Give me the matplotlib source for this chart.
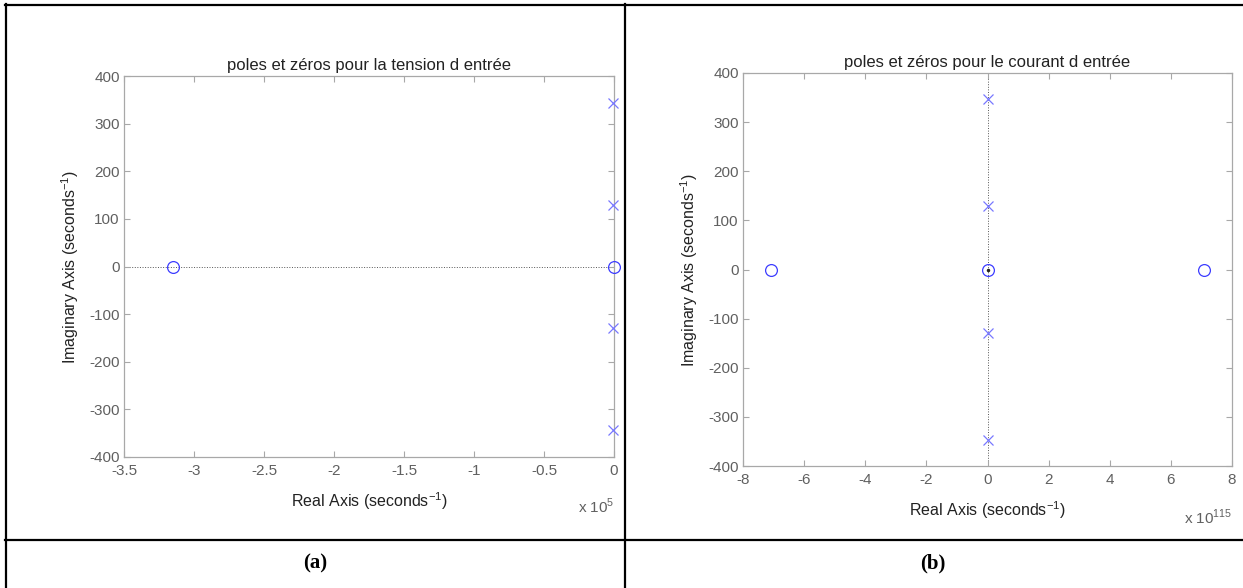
import numpy as np
import matplotlib.pyplot as plt
from matplotlib.lines import Line2D

# Données
# (a) tension d'entrée
zeros_a_re = np.array([-3.15e5, 0.0])
zeros_a_im = np.array([0.0, 0.0])
poles_a_re = np.array([-500.0, -500.0, -500.0, -500.0])
poles_a_im = np.array([343.0, 129.0, -129.0, -343.0])

# (b) courant d'entrée
zeros_b_re = np.array([-7.07e115, 0.0, 7.07e115])
zeros_b_im = np.array([0.0, 0.0, 0.0])
poles_b_re = np.array([0.0, 0.0, 0.0, 0.0])
poles_b_im = np.array([347.0, 129.0, -129.0, -347.0])

xticks_a = [-3.5, -3, -2.5, -2, -1.5, -1, -0.5, 0]
xticks_b = [-8, -6, -4, -2, 0, 2, 4, 6, 8]
yticks = [-400, -300, -200, -100, 0, 100, 200, 300, 400]

plt.rcParams['font.family'] = ['Liberation Sans', 'DejaVu Sans']
plt.rcParams['mathtext.fontset'] = 'custom'
plt.rcParams['mathtext.rm'] = 'Liberation Sans'
plt.rcParams['axes.unicode_minus'] = False

W, H = 1243, 588
fig = plt.figure(figsize=(W / 100, H / 100), dpi=100)

tick_col = '#606060'
spine_col = '#a8a8a8'
zero_col = '#3c3cff'
pole_col = '#7878ff'


def make_axes(box, xticks, xlim, title, scale_txt):
    l, r, t, b = box
    ax = fig.add_axes([l / W, 1 - b / H, (r - l) / W, (b - t) / H])
    ax.set_xlim(xlim)
    ax.set_ylim(-400, 400)
    ax.set_xticks(xticks)
    ax.set_xticklabels([f'{v:g}' for v in xticks])
    ax.set_yticks(yticks)
    for s in ax.spines.values():
        s.set_color(spine_col)
        s.set_linewidth(0.9)
    ax.tick_params(direction='in', length=4, width=0.8, color=spine_col,
                   labelcolor=tick_col, labelsize=11, top=True, right=True,
                   pad=3)
    ax.tick_params(axis='x', pad=5)
    ax.set_title(title, fontsize=12, color='#222222', pad=4)
    ax.set_xlabel('Real Axis (seconds$^{-1}$)', fontsize=11.5,
                  color='#222222', labelpad=9)
    ax.set_ylabel('Imaginary Axis (seconds$^{-1}$)', fontsize=11.5,
                  color='#222222', labelpad=6)
    ax.text(1.0, -0.13, scale_txt, transform=ax.transAxes, ha='right',
            va='center', fontsize=11, color=tick_col)
    return ax


# panneau (a)
ax1 = make_axes((124, 614, 76, 457), xticks_a, (-3.5, 0),
                'poles et zéros pour la tension d entrée', 'x 10$^{5}$')
ax1.axhline(0, color='#555555', ls=':', lw=0.7, zorder=1)
ax1.plot(zeros_a_re / 1e5, zeros_a_im, 'o', ms=8.5, mfc='none', mec=zero_col,
         mew=0.9, clip_on=False, zorder=3)
ax1.plot(poles_a_re / 1e5, poles_a_im, 'x', ms=7.5, mec=pole_col, mew=0.9,
         clip_on=False, zorder=3)

# panneau (b)
ax2 = make_axes((743, 1232, 73, 466), xticks_b, (-8, 8),
                'poles et zéros pour le courant d entrée', 'x 10$^{115}$')
ax2.axvline(0, color='#555555', ls=':', lw=0.7, zorder=1)
ax2.plot(zeros_b_re / 1e115, zeros_b_im, 'o', ms=8.5, mfc='none', mec=zero_col,
         mew=0.9, clip_on=False, zorder=3)
ax2.plot(poles_b_re / 1e115, poles_b_im, 'x', ms=7.5, mec=pole_col, mew=0.9,
         clip_on=False, zorder=3)
ax2.plot([0], [0], '.', color='#222222', ms=3, zorder=4)

# cadre du tableau
def hline(y, x0, x1):
    fig.add_artist(Line2D([x0 / W, x1 / W], [1 - y / H, 1 - y / H],
                          color='black', lw=1.6))


def vline(x, y0, y1):
    fig.add_artist(Line2D([x / W, x / W], [1 - y0 / H, 1 - y1 / H],
                          color='black', lw=1.6))


hline(5, 5, W)
hline(540, 5, W)
vline(6, 4, H)
vline(625, 4, H)

fig.text(315 / W, 1 - 563 / H, '(a)', ha='center', va='center',
         fontsize=15, fontweight='bold', family='Liberation Serif')
fig.text(933 / W, 1 - 563 / H, '(b)', ha='center', va='center',
         fontsize=15, fontweight='bold', family='Liberation Serif')

fig.savefig('out.png', dpi=100)
